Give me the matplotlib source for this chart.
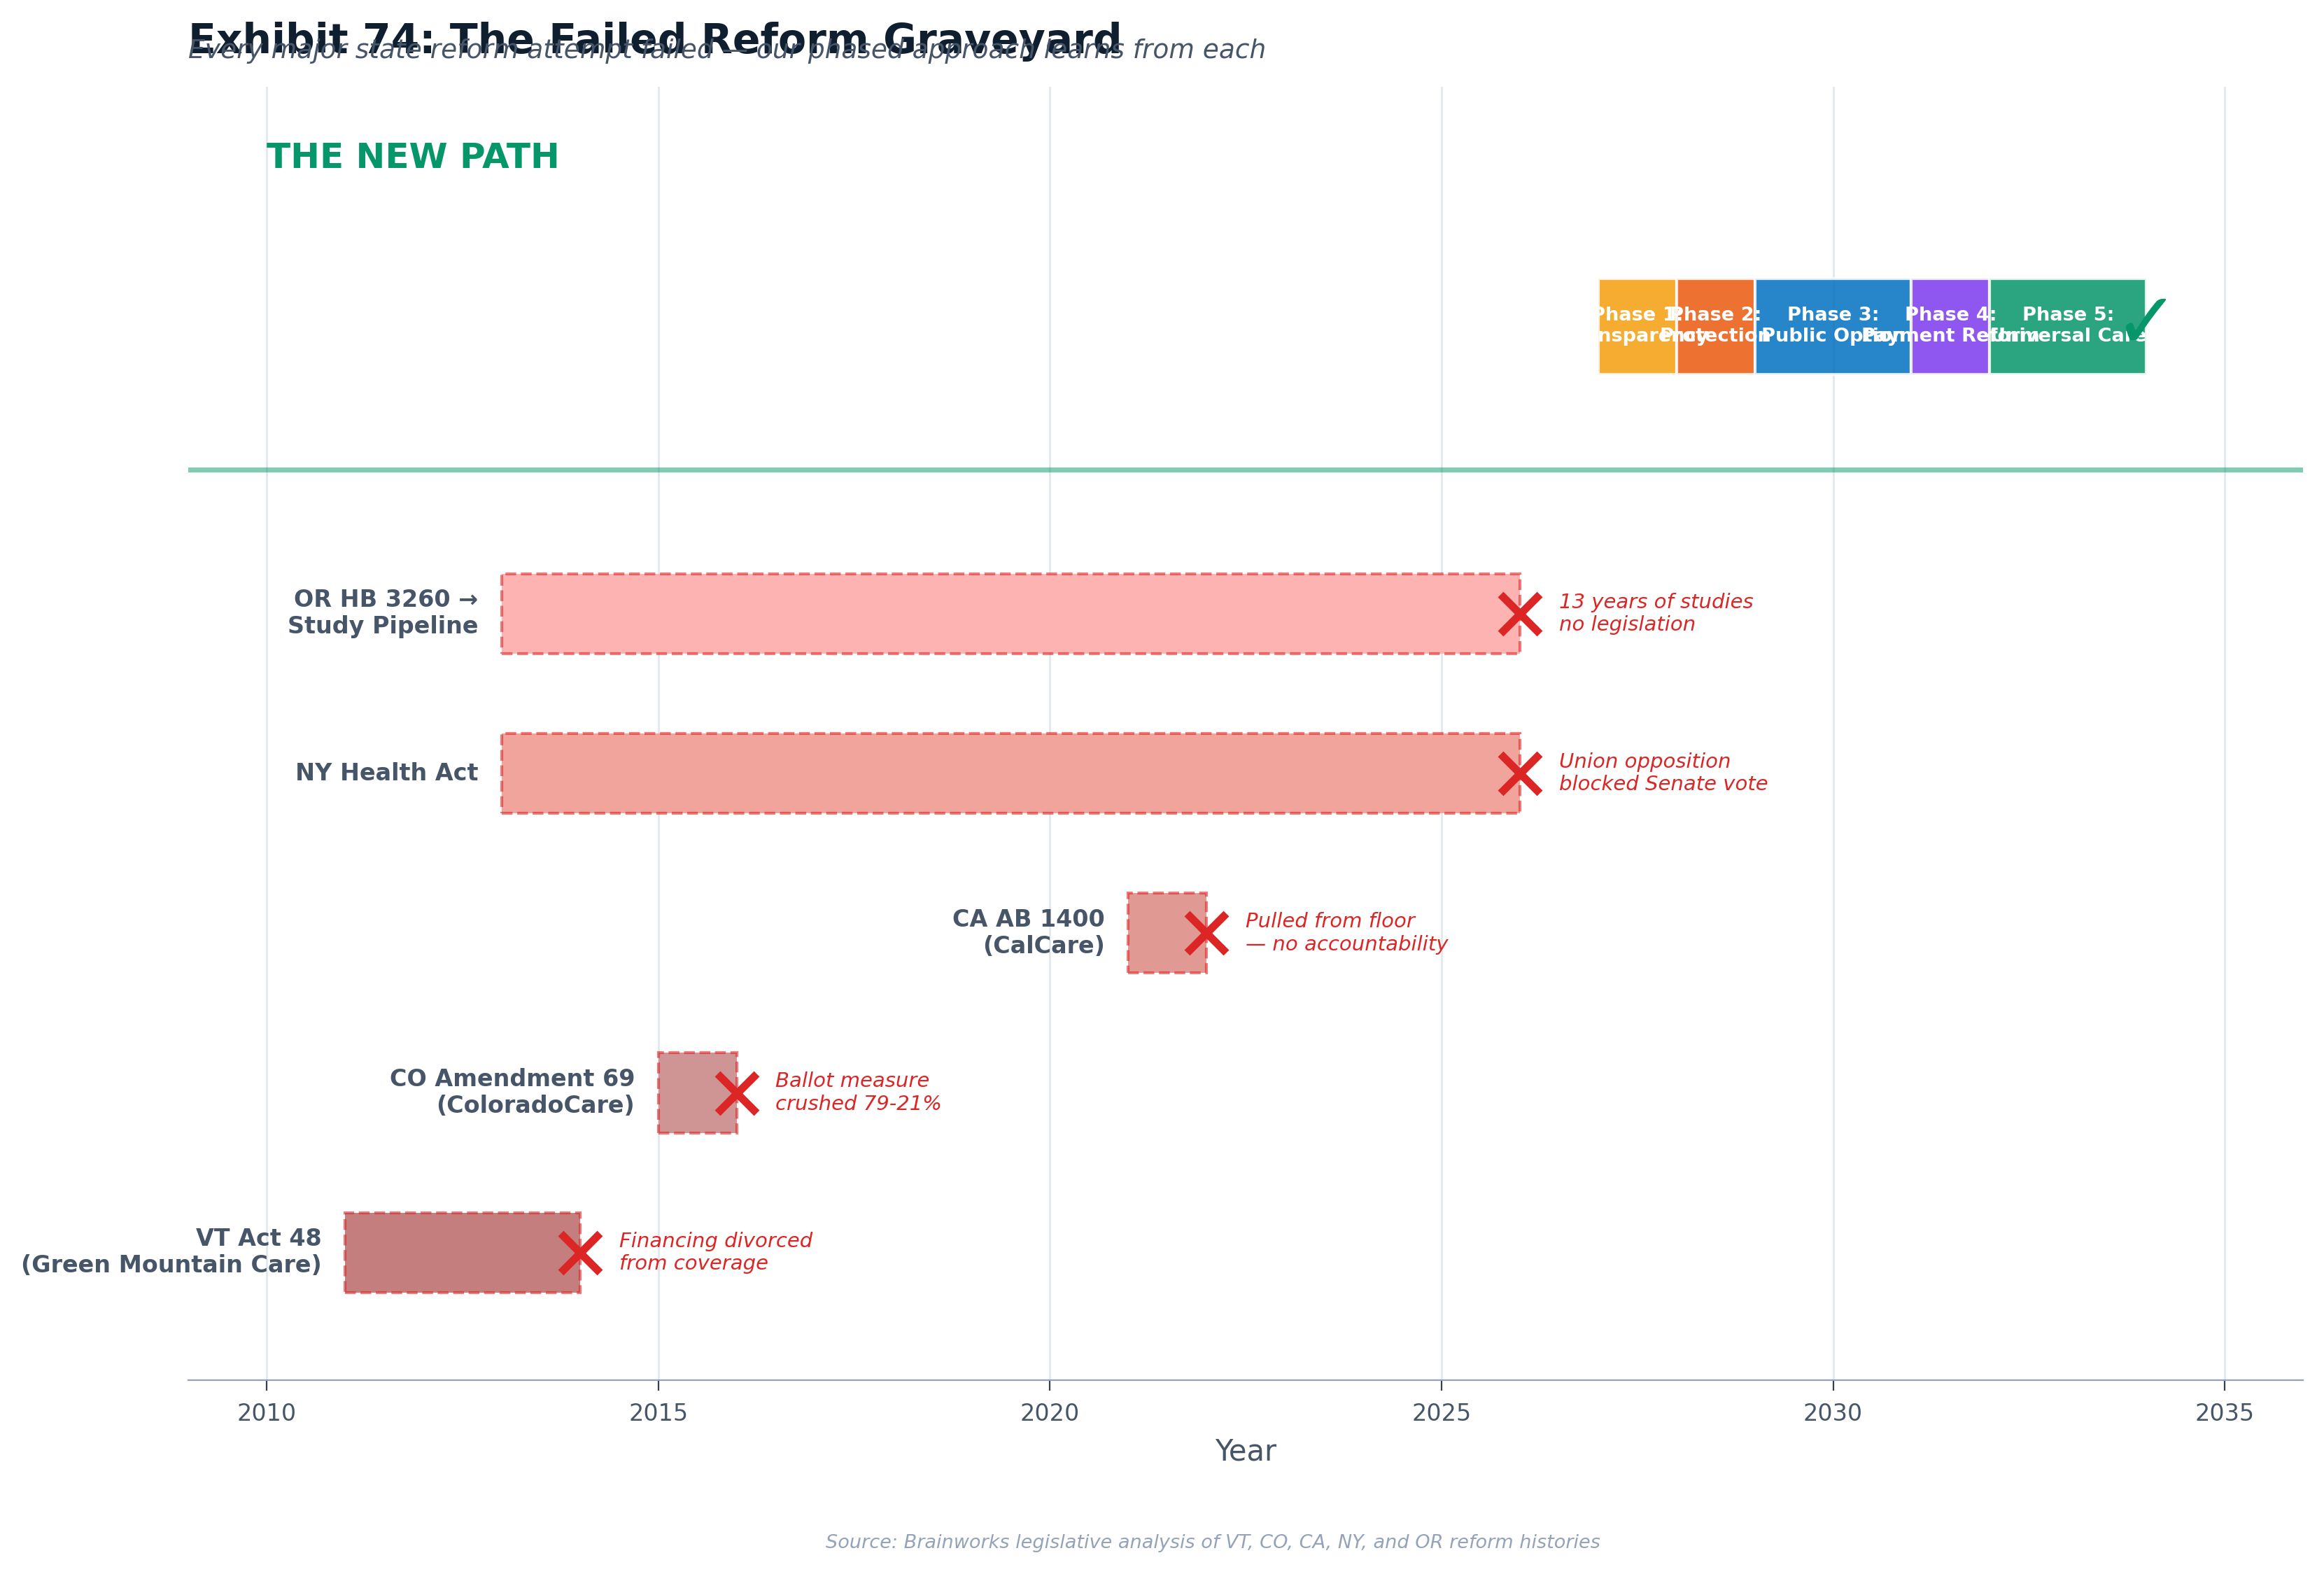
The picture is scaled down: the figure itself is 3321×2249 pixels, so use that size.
import numpy as np
import matplotlib
matplotlib.use("Agg")
import matplotlib.pyplot as plt

# failed reform attempts (bottom to top)
reform_labels = ["VT Act 48\n(Green Mountain Care)", "CO Amendment 69\n(ColoradoCare)",
                 "CA AB 1400\n(CalCare)", "NY Health Act", "OR HB 3260 →\nStudy Pipeline"]
reform_start = [2011, 2015, 2021, 2013, 2013]
reform_end = [2014, 2016, 2022, 2026, 2026]
reform_notes = ["Financing divorced\nfrom coverage", "Ballot measure\ncrushed 79-21%",
                "Pulled from floor\n— no accountability", "Union opposition\nblocked Senate vote",
                "13 years of studies\nno legislation"]
reform_colors = ["#c47e7e", "#cf9494", "#e09993", "#f0a49b", "#feb3b3"]

# the phased path
phase_labels = ["Phase 1:\nTransparency", "Phase 2:\nProtection", "Phase 3:\nPublic Option",
                "Phase 4:\nPayment Reform", "Phase 5:\nUniversal Care"]
phase_start = [2027, 2028, 2029, 2031, 2032]
phase_end = [2028, 2029, 2031, 2032, 2034]
phase_colors = ["#f59e0b", "#ea580c", "#0170c0", "#7c3aed", "#059669"]

RED = "#dc2626"
SLATE = "#475569"
GREEN = "#059669"

fig = plt.figure(figsize=(16.605, 11.245), dpi=200)
ax = fig.add_axes([0.081, 0.123, 0.910, 0.822])

ys = np.arange(len(reform_labels))
for y, s, e, lab, note, c in zip(ys, reform_start, reform_end, reform_labels,
                                 reform_notes, reform_colors):
    ax.barh(y, e - s, left=s, height=0.5, color=c, edgecolor=(0.863, 0.149, 0.149, 0.6),
            linestyle="--", linewidth=1.5, zorder=3)
    ax.plot(e, y, marker="x", ms=20, mew=4, color=RED, zorder=5)
    ax.text(s - 0.3, y, lab, ha="right", va="center", fontsize=12,
            fontweight="bold", color=SLATE)
    ax.text(e + 0.5, y, note, ha="left", va="center", fontsize=10.5,
            style="italic", color=RED)

# divider between graveyard and new path
ax.axhline(4.9, color=GREEN, alpha=0.5, lw=2.6, zorder=2)

py = 5.8
for s, e, lab, c in zip(phase_start, phase_end, phase_labels, phase_colors):
    ax.barh(py, e - s, left=s, height=0.6, color=c, alpha=0.85,
            edgecolor="white", linewidth=1.5, zorder=3)
    ax.text((s + e) / 2, py, lab, ha="center", va="center", fontsize=9.8,
            fontweight="bold", color="white", zorder=4)
ax.text(phase_end[-1], py, "✓", ha="center", va="center", fontsize=40,
        color=GREEN, fontweight="bold", zorder=5)
ax.text(2010, 6.85, "THE NEW PATH", ha="left", va="center", fontsize=18,
        fontweight="bold", color=GREEN)

ax.set_xlim(2009, 2036)
ax.set_ylim(-0.8, 7.3)
ax.set_xticks([2010, 2015, 2020, 2025, 2030, 2035])
ax.set_yticks([])
ax.tick_params(axis="x", labelsize=12, labelcolor=SLATE, color="#334155",
               length=5.5, width=0.8, pad=6)
ax.set_xlabel("Year", fontsize=15, color=SLATE, labelpad=6)
ax.grid(axis="x", color="#e2e8f0", lw=1.0, zorder=0)
ax.set_axisbelow(True)
for s in ("top", "right", "left"):
    ax.spines[s].set_visible(False)
ax.spines["bottom"].set_color("#94a3b8")
ax.spines["bottom"].set_linewidth(0.8)

fig.text(0.081, 0.966, "Exhibit 74: The Failed Reform Graveyard", ha="left",
         va="baseline", fontsize=21, fontweight="bold", color="#0f1f30")
fig.text(0.081, 0.963, "Every major state reform attempt failed — our phased approach learns from each",
         ha="left", va="baseline", fontsize=13.5, style="italic", color=SLATE)
fig.text(0.522, 0.0196, "Source: Brainworks legislative analysis of VT, CO, CA, NY, and OR reform histories",
         ha="center", va="center", fontsize=9.75, style="italic", color="#94a3b8")

fig.savefig("out.png", dpi=200, facecolor="white")
